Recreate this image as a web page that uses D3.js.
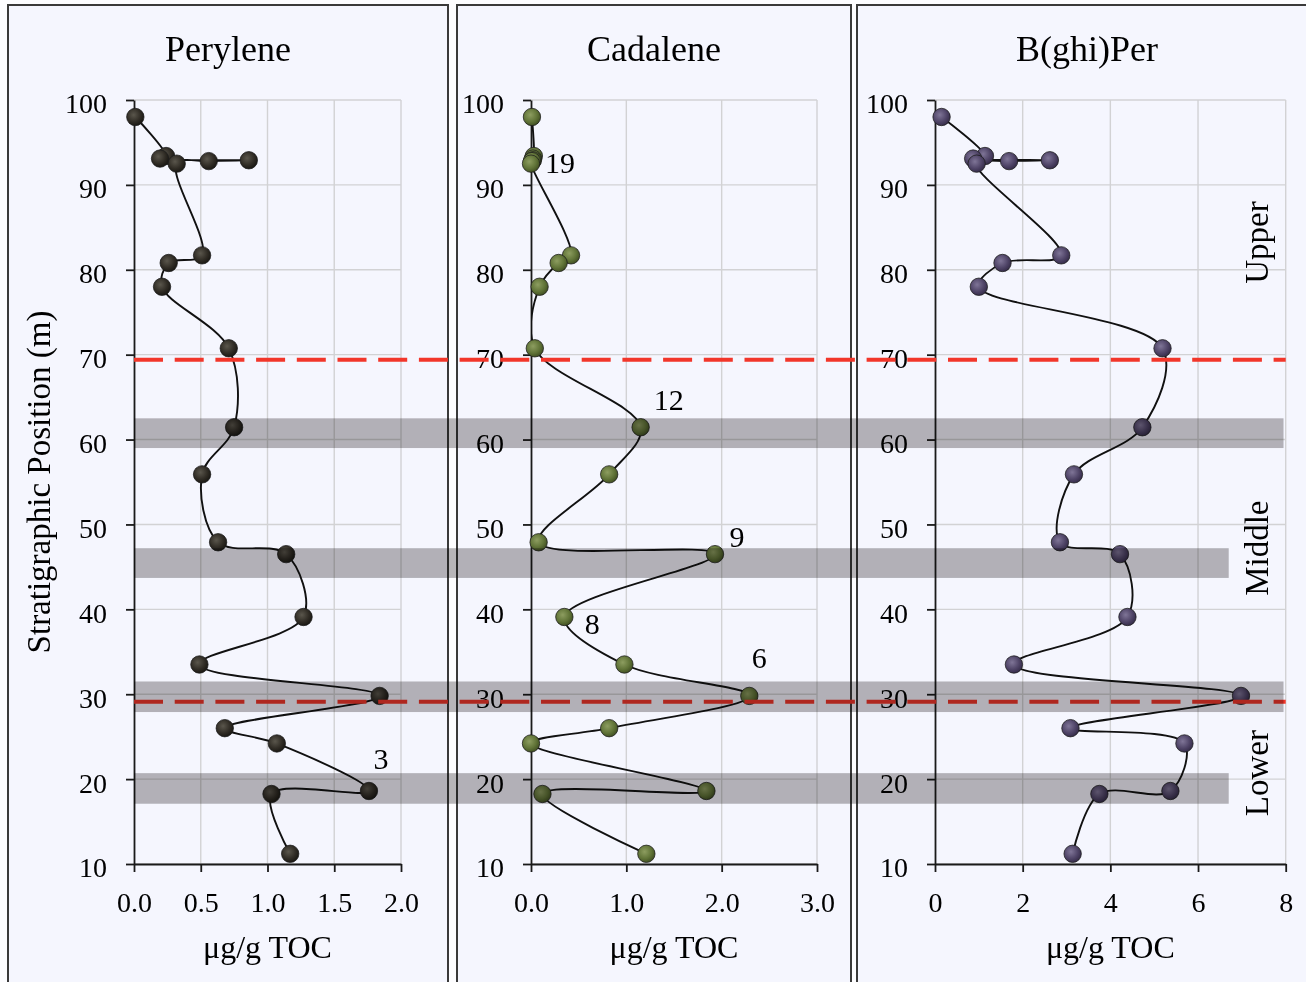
<!DOCTYPE html>
<html>
<head>
<meta charset="utf-8">
<script src="https://cdn.jsdelivr.net/npm/d3@7"></script>
<style>
  html, body { margin: 0; padding: 0; background: #fdfdff; }
  svg { display: block; }
  text { font-family: "Liberation Serif", "Times New Roman", serif; fill: #000; }
</style>
</head>
<body>
<svg id="chart" width="1306" height="982"></svg>
<script>
// Stratigraphic positions (m) of the samples, top of section first
const depth = [98.0, 93.4, 93.1, 92.9, 92.8, 92.5, 81.7, 80.8, 78.0, 70.75, 61.45, 55.9,
               47.9, 46.5, 39.1, 33.5, 29.8, 26.0, 24.2, 18.6, 18.25, 11.2];

// Concentrations, µg/g TOC
const perylene = [0.01, 0.24, 0.195, 0.86, 0.56, 0.32, 0.51, 0.26, 0.21, 0.71, 0.75, 0.51,
                  0.63, 1.14, 1.27, 0.49, 1.84, 0.68, 1.07, 1.76, 1.03, 1.17];
const cadalene = [0.01, 0.03, 0.02, 0.02, 0.01, 0.0, 0.42, 0.29, 0.09, 0.04, 1.15, 0.82,
                  0.08, 1.93, 0.35, 0.98, 2.29, 0.82, 0.0, 1.84, 0.12, 1.21];
const bghiper  = [0.15, 1.14, 0.87, 2.62, 1.69, 0.95, 2.88, 1.54, 1.00, 5.19, 4.73, 3.17,
                  2.85, 4.22, 4.39, 1.80, 6.98, 3.09, 5.69, 5.37, 3.75, 3.14];

// Panel titles and axis ticks
const titles = ["Perylene", "Cadalene", "B(ghi)Per"];
const perTicks = [0, 0.5, 1.0, 1.5, 2.0];
const cadTicks = [0, 1.0, 2.0, 3.0];
const bghTicks = [0, 2, 4, 6, 8];
const depthTicks = [10, 20, 30, 40, 50, 60, 70, 80, 90, 100];
const xLabel = "μg/g TOC";
const yLabel = "Stratigraphic Position (m)";

// Sample numbers written next to selected points (index into depth)
const cadNoteText = ["19", "12", "9", "8", "6"];
const cadNoteIdx  = [5, 10, 13, 14, 16];
const perNoteText = ["3"];
const perNoteIdx  = [19];

// Shaded intervals (m) and how far right they reach on the B(ghi)Per scale
const bandLow  = [59.0, 43.7, 27.9, 17.1];
const bandHigh = [62.5, 47.2, 31.5, 20.7];
const bandEnd  = [7.95, 6.7, 7.95, 6.7];

// Unit boundaries (m)
const boundaries = [69.4, 29.1];

// Unit names and the position of their centres (m)
const units = ["Upper", "Middle", "Lower"];
const unitMid = [83.2, 47.2, 20.7];

// ---------------------------------------------------------------------------
const svg = d3.select("#chart");
const defs = svg.append("defs");

const y = d3.scaleLinear().domain([10, 100]).range([864, 100]);

const panels = [
  { title: titles[0], box: [8, 448],   range: [134, 401],   domain: [0, 2], ticks: perTicks, fmt: d3.format(".1f"),
    values: perylene, fill: ["#5a564c", "#302c25", "#1b1914"] },
  { title: titles[1], box: [457, 851], range: [531, 817],   domain: [0, 3], ticks: cadTicks, fmt: d3.format(".1f"),
    values: cadalene, fill: ["#8d9d60", "#607337", "#435224"] },
  { title: titles[2], box: [857, 1317], range: [935, 1285.7], domain: [0, 8], ticks: bghTicks, fmt: d3.format("d"),
    values: bghiper, fill: ["#7f7597", "#4f4467", "#372e4b"] }
];
panels.forEach(p => { p.x = d3.scaleLinear().domain(p.domain).range(p.range); });

// Panel frames
svg.selectAll("rect.frame").data(panels).join("rect")
  .attr("class", "frame")
  .attr("x", p => p.box[0]).attr("y", 5)
  .attr("width", p => p.box[1] - p.box[0]).attr("height", 1000)
  .attr("fill", "#f5f6fe").attr("stroke", "#3a3a3a").attr("stroke-width", 2);

panels.forEach((p, i) => {
  const g = svg.append("g");
  const [x0, x1] = p.range;

  // gradients for the markers
  const grad = defs.append("radialGradient").attr("id", "mk" + i)
    .attr("cx", "40%").attr("cy", "38%").attr("r", "62%");
  grad.append("stop").attr("offset", "0%").attr("stop-color", p.fill[0]);
  grad.append("stop").attr("offset", "65%").attr("stop-color", p.fill[1]);
  grad.append("stop").attr("offset", "100%").attr("stop-color", p.fill[2]);

  defs.append("clipPath").attr("id", "clip" + i)
    .append("rect").attr("x", x0).attr("y", y(100) - 2)
    .attr("width", x1 - x0 + 2).attr("height", y(10) - y(100) + 4);

  // grid
  g.append("g").selectAll("line").data(depthTicks).join("line")
    .attr("x1", x0).attr("x2", x1).attr("y1", d => y(d)).attr("y2", d => y(d))
    .attr("stroke", "#d2d2d4").attr("stroke-width", 1.4);
  g.append("g").selectAll("line").data(p.ticks.slice(1)).join("line")
    .attr("x1", d => p.x(d)).attr("x2", d => p.x(d)).attr("y1", y(100)).attr("y2", y(10))
    .attr("stroke", "#d2d2d4").attr("stroke-width", 1.4);

  // axes
  const ay = g.append("g").attr("transform", `translate(${x0},0)`)
    .call(d3.axisLeft(y).tickValues(depthTicks).tickSize(8).tickSizeOuter(0).tickPadding(19));
  ay.selectAll("text").attr("font-size", 28).attr("dy", "0.46em");
  const ax = g.append("g").attr("transform", `translate(0,${y(10)})`)
    .call(d3.axisBottom(p.x).tickValues(p.ticks).tickFormat(p.fmt).tickSize(8).tickSizeOuter(0).tickPadding(20));
  ax.selectAll("text").attr("font-size", 28);
  [ay, ax].forEach(a => {
    a.select(".domain").attr("stroke", "#1a1a1a").attr("stroke-width", 1.8);
    a.selectAll(".tick line").attr("stroke", "#1a1a1a").attr("stroke-width", 1.8);
    a.selectAll("text").style("font-family", "'Liberation Serif', 'Times New Roman', serif").attr("fill", "#000");
  });

  // title and x label
  g.append("text").attr("x", (p.box[0] + p.box[1]) / 2).attr("y", 61)
    .attr("text-anchor", "middle").attr("font-size", 36).text(p.title);
  g.append("text").attr("x", (x0 + x1) / 2).attr("y", 958)
    .attr("text-anchor", "middle").attr("font-size", 32).text(xLabel);

  // profile line
  const pts = depth.map((d, k) => [p.x(p.values[k]), y(d)]);
  g.append("path").attr("clip-path", `url(#clip${i})`)
    .attr("d", d3.line().curve(d3.curveCatmullRom.alpha(0.5))(pts))
    .attr("fill", "none").attr("stroke", "#111").attr("stroke-width", 1.9);

  // markers
  g.append("g").selectAll("circle").data(pts).join("circle")
    .attr("cx", d => d[0]).attr("cy", d => d[1]).attr("r", 8.7)
    .attr("fill", `url(#mk${i})`).attr("stroke", "#1c1c1c").attr("stroke-width", 0.9)
    .attr("stroke-opacity", 0.85);
  p.g = g;
});

// sample number annotations
const per = panels[0], cad = panels[1], bgh = panels[2];
const cadOff = [[29, 9], [28, -17], [22, -7], [28, 17], [10, -28]];
cad.g.append("g").selectAll("text").data(cadNoteText).join("text")
  .attr("x", (t, k) => cad.x(cadalene[cadNoteIdx[k]]) + cadOff[k][0])
  .attr("y", (t, k) => y(depth[cadNoteIdx[k]]) + cadOff[k][1])
  .attr("text-anchor", "middle").attr("font-size", 30).text(t => t);
const perOff = [[12, -22]];
per.g.append("g").selectAll("text").data(perNoteText).join("text")
  .attr("x", (t, k) => per.x(perylene[perNoteIdx[k]]) + perOff[k][0])
  .attr("y", (t, k) => y(depth[perNoteIdx[k]]) + perOff[k][1])
  .attr("text-anchor", "middle").attr("font-size", 30).text(t => t);

// y axis title
svg.append("text").attr("transform", "translate(50,482) rotate(-90)")
  .attr("text-anchor", "middle").attr("font-size", 33).text(yLabel);

// unit names
svg.append("g").selectAll("text").data(units).join("text")
  .attr("transform", (u, k) => `translate(1268,${y(unitMid[k])}) rotate(-90)`)
  .attr("text-anchor", "middle").attr("font-size", 33).text(u => u);

// unit boundaries
const xStart = per.x(0), xStop = bgh.x(8);
const halo = defs.append("filter").attr("id", "soft").attr("x", "-5%").attr("y", "-200%")
  .attr("width", "110%").attr("height", "500%");
halo.append("feGaussianBlur").attr("stdDeviation", 1.6);
svg.append("g").selectAll("line").data(boundaries).join("line")
  .attr("x1", xStart).attr("x2", xStop).attr("y1", d => y(d) + 1.5).attr("y2", d => y(d) + 1.5)
  .attr("stroke", "#9a8a90").attr("stroke-width", 6).attr("stroke-opacity", 0.35)
  .attr("stroke-dasharray", "29 11.7").attr("filter", "url(#soft)");
svg.append("g").selectAll("line").data(boundaries).join("line")
  .attr("x1", xStart).attr("x2", xStop).attr("y1", d => y(d)).attr("y2", d => y(d))
  .attr("stroke", "#f2362a").attr("stroke-width", 4)
  .attr("stroke-dasharray", "29 11.7");

// shaded intervals
svg.append("g").selectAll("rect").data(bandLow).join("rect")
  .attr("x", xStart)
  .attr("y", (d, k) => y(bandHigh[k]))
  .attr("width", (d, k) => bgh.x(bandEnd[k]) - xStart)
  .attr("height", (d, k) => y(bandLow[k]) - y(bandHigh[k]))
  .attr("fill", "#b9b7b8")
  .style("mix-blend-mode", "multiply");
</script>
</body>
</html>
